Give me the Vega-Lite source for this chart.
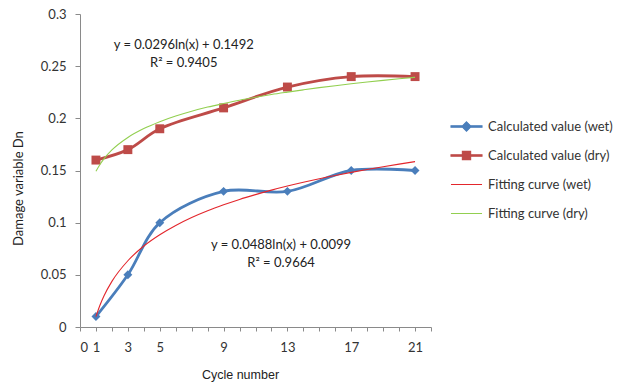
{
  "$schema": "https://vega.github.io/schema/vega-lite/v6.json",
  "autosize": "none",
  "padding": {"left": 80, "top": 14, "right": 202, "bottom": 63},
  "width": 351,
  "height": 313,
  "background": "white",
  "config": {
    "view": {"stroke": null},
    "axis": {"grid": false, "domainColor": "#8a8a8a", "tickColor": "#8a8a8a", "labelFont": "Lato", "labelFontSize": 13, "labelColor": "#333333", "titleFont": "Liberation Sans", "titleFontSize": 12.5, "titleFontWeight": "normal", "titleColor": "#222222", "tickSize": 5}
  },
  "datasets": {
    "calc": [
      {"series": "Calculated value (wet)", "x": 1, "y": 0.01},
      {"series": "Calculated value (wet)", "x": 3, "y": 0.05},
      {"series": "Calculated value (wet)", "x": 5, "y": 0.1},
      {"series": "Calculated value (wet)", "x": 9, "y": 0.13},
      {"series": "Calculated value (wet)", "x": 13, "y": 0.13},
      {"series": "Calculated value (wet)", "x": 17, "y": 0.15},
      {"series": "Calculated value (wet)", "x": 21, "y": 0.15},
      {"series": "Calculated value (dry)", "x": 1, "y": 0.16},
      {"series": "Calculated value (dry)", "x": 3, "y": 0.17},
      {"series": "Calculated value (dry)", "x": 5, "y": 0.19},
      {"series": "Calculated value (dry)", "x": 9, "y": 0.21},
      {"series": "Calculated value (dry)", "x": 13, "y": 0.23},
      {"series": "Calculated value (dry)", "x": 17, "y": 0.24},
      {"series": "Calculated value (dry)", "x": 21, "y": 0.24}
    ],
    "fit": [
      {"series": "Fitting curve (wet)", "x": 1, "y": 0.0099},
      {"series": "Fitting curve (wet)", "x": 1.25, "y": 0.0208},
      {"series": "Fitting curve (wet)", "x": 1.5, "y": 0.0297},
      {"series": "Fitting curve (wet)", "x": 2, "y": 0.0437},
      {"series": "Fitting curve (wet)", "x": 3, "y": 0.0635},
      {"series": "Fitting curve (wet)", "x": 4, "y": 0.0776},
      {"series": "Fitting curve (wet)", "x": 5, "y": 0.0884},
      {"series": "Fitting curve (wet)", "x": 6, "y": 0.0973},
      {"series": "Fitting curve (wet)", "x": 7, "y": 0.1049},
      {"series": "Fitting curve (wet)", "x": 8, "y": 0.1114},
      {"series": "Fitting curve (wet)", "x": 9, "y": 0.1171},
      {"series": "Fitting curve (wet)", "x": 10, "y": 0.1223},
      {"series": "Fitting curve (wet)", "x": 11, "y": 0.1269},
      {"series": "Fitting curve (wet)", "x": 12, "y": 0.1312},
      {"series": "Fitting curve (wet)", "x": 13, "y": 0.1351},
      {"series": "Fitting curve (wet)", "x": 14, "y": 0.1387},
      {"series": "Fitting curve (wet)", "x": 15, "y": 0.1421},
      {"series": "Fitting curve (wet)", "x": 16, "y": 0.1452},
      {"series": "Fitting curve (wet)", "x": 17, "y": 0.1482},
      {"series": "Fitting curve (wet)", "x": 18, "y": 0.151},
      {"series": "Fitting curve (wet)", "x": 19, "y": 0.1536},
      {"series": "Fitting curve (wet)", "x": 20, "y": 0.1561},
      {"series": "Fitting curve (wet)", "x": 21, "y": 0.1585},
      {"series": "Fitting curve (dry)", "x": 1, "y": 0.1492},
      {"series": "Fitting curve (dry)", "x": 1.25, "y": 0.1558},
      {"series": "Fitting curve (dry)", "x": 1.5, "y": 0.1612},
      {"series": "Fitting curve (dry)", "x": 2, "y": 0.1697},
      {"series": "Fitting curve (dry)", "x": 3, "y": 0.1817},
      {"series": "Fitting curve (dry)", "x": 4, "y": 0.1902},
      {"series": "Fitting curve (dry)", "x": 5, "y": 0.1968},
      {"series": "Fitting curve (dry)", "x": 6, "y": 0.2022},
      {"series": "Fitting curve (dry)", "x": 7, "y": 0.2068},
      {"series": "Fitting curve (dry)", "x": 8, "y": 0.2108},
      {"series": "Fitting curve (dry)", "x": 9, "y": 0.2142},
      {"series": "Fitting curve (dry)", "x": 10, "y": 0.2174},
      {"series": "Fitting curve (dry)", "x": 11, "y": 0.2202},
      {"series": "Fitting curve (dry)", "x": 12, "y": 0.2228},
      {"series": "Fitting curve (dry)", "x": 13, "y": 0.2251},
      {"series": "Fitting curve (dry)", "x": 14, "y": 0.2273},
      {"series": "Fitting curve (dry)", "x": 15, "y": 0.2294},
      {"series": "Fitting curve (dry)", "x": 16, "y": 0.2313},
      {"series": "Fitting curve (dry)", "x": 17, "y": 0.2331},
      {"series": "Fitting curve (dry)", "x": 18, "y": 0.2348},
      {"series": "Fitting curve (dry)", "x": 19, "y": 0.2364},
      {"series": "Fitting curve (dry)", "x": 20, "y": 0.2379},
      {"series": "Fitting curve (dry)", "x": 21, "y": 0.2393}
    ],
    "notes": [
      {"x": 6.5, "y": 0.2703, "label": "y = 0.0296ln(x) + 0.1492"},
      {"x": 6.5, "y": 0.2530, "label": "R² = 0.9405"},
      {"x": 12.6, "y": 0.0785, "label": "y = 0.0488ln(x) + 0.0099"},
      {"x": 12.6, "y": 0.0613, "label": "R² = 0.9664"}
    ]
  },
  "encoding": {
    "x": {"field": "x", "type": "quantitative", "scale": {"domain": [0, 22], "nice": false, "zero": false},
      "axis": {"title": "Cycle number", "values": [0,1,2,3,4,5,6,7,8,9,10,11,12,13,14,15,16,17,18,19,20,21,22], "labelExpr": "indexof([0,1,3,5,9,13,17,21], datum.value) >= 0 ? datum.label : ''", "labelOverlap": false, "labelPadding": 10, "tickSize": 4, "titleX": 160, "titleY": 47, "titleBaseline": "middle", "titleAnchor": "middle"}},
    "y": {"field": "y", "type": "quantitative", "scale": {"domain": [0, 0.3], "nice": false},
      "axis": {"title": "Damage variable Dn", "values": [0, 0.05, 0.1, 0.15, 0.2, 0.25, 0.3], "format": "~g", "labelPadding": 9, "titleX": -62, "titleY": 174, "titleBaseline": "middle", "titleAnchor": "middle", "titleFont": "Lato", "titleFontSize": 13}}
  },
  "layer": [
    {
      "data": {"name": "calc"},
      "mark": {"type": "line", "interpolate": "catmull-rom", "strokeWidth": 2.8},
      "encoding": {
        "color": {"field": "series", "type": "nominal",
          "scale": {"domain": ["Calculated value (wet)", "Calculated value (dry)", "Fitting curve (wet)", "Fitting curve (dry)"], "range": ["#4a7ebb", "#be4b48", "#e3262c", "#92cf50"]},
          "legend": {"title": null, "orient": "none", "legendX": 380, "legendY": 106, "labelFont": "Lato", "labelFontSize": 13, "labelColor": "#333333", "labelOffset": 15, "symbolSize": 107, "rowPadding": 15, "symbolType": "stroke", "symbolStrokeWidth": 1.1,
            "encode": {"symbols": {"update": {
              "shape": {"signal": "datum.value == 'Calculated value (wet)' ? 'M-3,-0.15L3,-0.15L3,0.15L-3,0.15ZM0,-0.9L0.9,0L0,0.9L-0.9,0Z' : datum.value == 'Calculated value (dry)' ? 'M-3,-0.15L3,-0.15L3,0.15L-3,0.15ZM-0.8,-0.8L0.8,-0.8L0.8,0.8L-0.8,0.8Z' : 'M-3,0L3,0'"},
              "fill": {"signal": "scale('color', datum.value)"}
            }}}}}
      }
    },
    {
      "data": {"name": "calc"},
      "mark": {"type": "point", "filled": true, "opacity": 1},
      "encoding": {
        "color": {"field": "series", "type": "nominal"},
        "shape": {"field": "series", "type": "nominal", "scale": {"domain": ["Calculated value (wet)", "Calculated value (dry)"], "range": ["diamond", "square"]}, "legend": null},
        "size": {"value": 80}
      }
    },
    {
      "data": {"name": "fit"},
      "mark": {"type": "line", "interpolate": "monotone", "strokeWidth": 1.1},
      "encoding": {
        "color": {"field": "series", "type": "nominal"}
      }
    },
    {
      "data": {"name": "notes"},
      "mark": {"type": "text", "font": "Lato", "fontSize": 13, "color": "#222222", "baseline": "middle", "align": "center"},
      "encoding": {"text": {"field": "label"}}
    }
  ]
}
